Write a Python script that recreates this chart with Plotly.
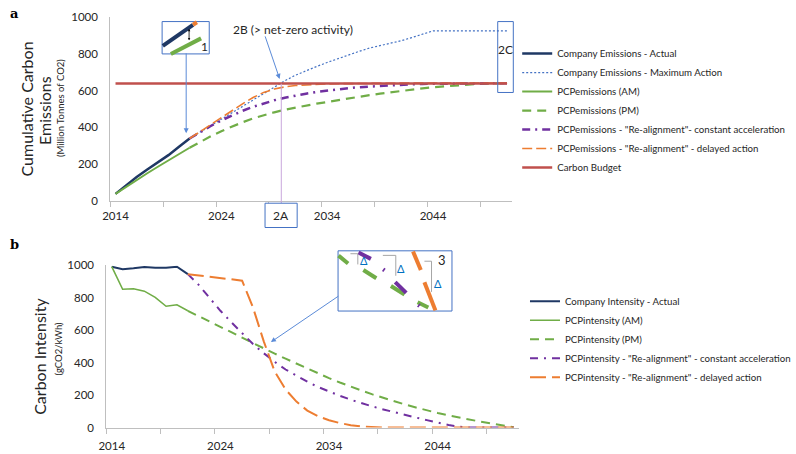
import plotly.graph_objects as go

W, H = 796, 454
FONT = "Lato"

# ---------------- data (panel a: cumulative emissions, Mt CO2) ----------------
years_hist = list(range(2014, 2022))
years_proj = list(range(2021, 2052))
years_all = list(range(2014, 2052))

emis_actual = [40, 86, 131, 172, 210, 250, 295, 340]
emis_max_action = [340, 375, 410, 445, 480, 515, 550, 586, 621, 653, 683, 708, 730, 752, 773, 793,
                   812, 830, 843, 856, 870, 887, 906, 923, 923, 923, 923, 923, 923, 923, 923]
pcp_emis_am = [40, 78, 115, 152, 187, 222, 256, 290]
pcp_emis_pm = [290, 322, 352, 380, 405, 428, 449, 467, 482, 496, 508, 519, 529, 538, 548, 557,
               566, 575, 583, 591, 598, 605, 612, 618, 623, 628, 632, 635, 637, 639, 640]
pcp_emis_const = [340, 375, 408, 438, 465, 490, 512, 531, 547, 561, 573, 583, 592, 600, 607, 613,
                  618, 622, 626, 629, 632, 634, 636, 637, 638, 639, 639, 640, 640, 640, 640]
pcp_emis_delay = [340, 378, 416, 452, 490, 528, 562, 590, 608, 620, 627, 631, 634, 636, 637, 638,
                  639, 639, 640, 640, 640, 640, 640, 640, 640, 640, 640, 640, 640, 640, 640]
carbon_budget = [638] * len(years_all)

# ---------------- data (panel b: carbon intensity, gCO2/kWh) ----------------
int_actual = [992, 976, 982, 990, 985, 985, 992, 946]
pcp_int_am = [992, 853, 856, 841, 803, 748, 757, 720]
pcp_int_pm = [720, 688, 656, 622, 588, 554, 520, 488, 456, 425, 394, 364, 334, 305, 278, 252,
              228, 205, 183, 162, 142, 124, 106, 90, 75, 61, 48, 36, 24, 12, 2]
pcp_int_const = [946, 880, 800, 720, 650, 580, 515, 458, 405, 358, 318, 283, 250, 222, 196, 172,
                 150, 130, 112, 94, 78, 62, 46, 30, 16, 5, 0, 0, 0, 0, 0]
pcp_int_delay = [946, 938, 930, 922, 914, 906, 740, 530, 345, 235, 160, 105, 70, 45, 28, 15,
                 7, 2, 0, 0, 0, 0, 0, 0, 0, 0, 0, 0, 0, 0, 0]

x_labels = [2014, 2024, 2034, 2044]
x_minor = [2013.5 + 5 * k for k in range(8)]
y_ticks = [0, 200, 400, 600, 800, 1000]

NAVY = "#1F3864"
BLUE = "#4472C4"
GREEN = "#70AD47"
PURPLE = "#7030A0"
ORANGE = "#ED7D31"
RED = "#C0504D"
AXC = "#BFBFBF"
TXT = "#262626"


def px(x, y):
    return x / W, 1 - y / H


fig = go.Figure()

# panel a
fig.add_trace(go.Scatter(x=years_hist, y=emis_actual, mode="lines", name="Company Emissions - Actual",
                         line=dict(color=NAVY, width=2.5), legend="legend"))
fig.add_trace(go.Scatter(x=years_proj, y=emis_max_action, mode="lines", name="Company Emissions - Maximum Action",
                         line=dict(color=BLUE, width=1.2, dash="2px,2px"), legend="legend"))
fig.add_trace(go.Scatter(x=years_hist, y=pcp_emis_am, mode="lines", name="PCPemissions (AM)",
                         line=dict(color=GREEN, width=2), legend="legend"))
fig.add_trace(go.Scatter(x=years_proj, y=pcp_emis_pm, mode="lines", name="PCPemissions (PM)",
                         line=dict(color=GREEN, width=2.2, dash="9px,6px"), legend="legend"))
fig.add_trace(go.Scatter(x=years_proj, y=pcp_emis_const, mode="lines",
                         name='PCPemissions - "Re-alignment"- constant acceleration',
                         line=dict(color=PURPLE, width=2.5, dash="8px,5px,2px,5px"), legend="legend"))
fig.add_trace(go.Scatter(x=years_proj, y=pcp_emis_delay, mode="lines",
                         name='PCPemissions - "Re-alignment" - delayed action',
                         line=dict(color=ORANGE, width=1.6, dash="10px,4px"), legend="legend"))
fig.add_trace(go.Scatter(x=years_all, y=carbon_budget, mode="lines", name="Carbon Budget",
                         line=dict(color=RED, width=2.5), legend="legend"))

# panel b
fig.add_trace(go.Scatter(x=years_hist, y=int_actual, mode="lines", name="Company Intensity - Actual",
                         line=dict(color=NAVY, width=2), xaxis="x2", yaxis="y2", legend="legend2"))
fig.add_trace(go.Scatter(x=years_hist, y=pcp_int_am, mode="lines", name="PCPintensity (AM)",
                         line=dict(color=GREEN, width=1.6), xaxis="x2", yaxis="y2", legend="legend2"))
fig.add_trace(go.Scatter(x=years_proj, y=pcp_int_pm, mode="lines", name="PCPintensity (PM)",
                         line=dict(color=GREEN, width=2, dash="9px,6px"), xaxis="x2", yaxis="y2",
                         legend="legend2"))
fig.add_trace(go.Scatter(x=years_proj, y=pcp_int_const, mode="lines",
                         name='PCPintensity - "Re-alignment" - constant acceleration',
                         line=dict(color=PURPLE, width=2, dash="8px,6px,2px,6px"), xaxis="x2", yaxis="y2",
                         legend="legend2"))
fig.add_trace(go.Scatter(x=years_proj, y=pcp_int_delay, mode="lines",
                         name='PCPintensity - "Re-alignment" - delayed action',
                         line=dict(color=ORANGE, width=2, dash="16px,6px"), xaxis="x2", yaxis="y2",
                         legend="legend2"))


def xaxis_cfg(standoff):
    return dict(range=[2013.5, 2051.5], tickvals=x_labels, ticktext=[str(v) for v in x_labels],
                ticks="", showgrid=False, zeroline=False, showline=True, linecolor=AXC, linewidth=1,
                tickfont=dict(family=FONT, size=11.5, color=TXT), ticklabelstandoff=standoff,
                minor=dict(tickvals=x_minor, ticks="outside", ticklen=5, tickcolor=AXC, showgrid=False),
                fixedrange=True)


ya_common = dict(range=[0, 1000], tickvals=y_ticks, ticks="", showgrid=False, zeroline=False,
                 showline=True, linecolor=AXC, linewidth=1,
                 tickfont=dict(family=FONT, size=11.5, color=TXT), ticklabelstandoff=9, fixedrange=True)

fig.update_layout(
    width=W, height=H, autosize=False,
    margin=dict(l=0, r=0, t=0, b=0),
    paper_bgcolor="white", plot_bgcolor="white",
    xaxis=dict(domain=[105 / W, 518 / W], anchor="y", **xaxis_cfg(4)),
    yaxis=dict(domain=[1 - 200 / H, 1 - 10 / H], anchor="x", **ya_common),
    xaxis2=dict(domain=[101 / W, 525 / W], anchor="y2", **xaxis_cfg(8)),
    yaxis2=dict(domain=[1 - 433 / H, 1 - 266 / H], anchor="x2", **ya_common),
    legend=dict(x=523 / W, y=1 - 33 / H, xanchor="left", yanchor="top", bgcolor="rgba(0,0,0,0)",
                font=dict(family=FONT, size=9.7, color=TXT), tracegroupgap=0, itemwidth=30),
    legend2=dict(x=531 / W, y=1 - 288 / H, xanchor="left", yanchor="top", bgcolor="rgba(0,0,0,0)",
                 font=dict(family=FONT, size=9.7, color=TXT), tracegroupgap=0, itemwidth=30),
    showlegend=True,
)

shapes = []
annotations = []


def pline(x0, y0, x1, y1, color, width=1, dash="solid"):
    a = px(x0, y0)
    b = px(x1, y1)
    shapes.append(dict(type="line", xref="paper", yref="paper", x0=a[0], y0=a[1], x1=b[0], y1=b[1],
                       line=dict(color=color, width=width, dash=dash)))


def prect(x0, y0, x1, y1, color=BLUE, width=1, fill="white"):
    a = px(x0, y0)
    b = px(x1, y1)
    shapes.append(dict(type="rect", xref="paper", yref="paper", x0=a[0], y0=b[1], x1=b[0], y1=a[1],
                       line=dict(color=color, width=width), fillcolor=fill))


def ptext(x, y, text, size=12, color=TXT, family=FONT, xanchor="center"):
    a = px(x, y)
    annotations.append(dict(x=a[0], y=a[1], xref="paper", yref="paper", text=text, showarrow=False,
                            xanchor=xanchor, yanchor="middle", font=dict(family=family, size=size, color=color)))


def parrow(hx, hy, tx, ty, color="#5B8BD8", width=1, side="end", size=1):
    a = px(hx, hy)
    annotations.append(dict(x=a[0], y=a[1], xref="paper", yref="paper", ax=tx - hx, ay=ty - hy,
                            axref="pixel", ayref="pixel", text="", showarrow=True, arrowhead=2,
                            arrowsize=size, arrowwidth=width, arrowcolor=color, arrowside=side,
                            startarrowhead=2, startarrowsize=size))


# panel labels
ptext(6.5, 6.5, "<b>a</b>", size=13, color="#000000", family="DejaVu Serif")
ptext(6.5, 245, "<b>b</b>", size=13, color="#000000", family="DejaVu Serif")

# axis titles (rotated)
for (x, y, t, s) in [(20, 105, "Cumulative Carbon", 16), (38, 106, "Emissions", 16),
                     (54, 104.5, "(Million Tonnes of CO2)", 9.5),
                     (33, 360, "Carbon Intensity", 16), (52, 352, "(gCO2/kWh)", 9.5)]:
    a = px(x, y)
    annotations.append(dict(x=a[0], y=a[1], xref="paper", yref="paper", text=t, showarrow=False,
                            textangle=-90, xanchor="center", yanchor="middle",
                            font=dict(family=FONT, size=s, color=TXT)))

# 2A vertical marker and box
pline(280.7, 79, 280.7, 202, "#C9A6DC", 1)
prect(264, 202, 297, 227)
ptext(280.5, 214.5, "2A", size=12)

# 2C box
prect(503, 15, 519, 88, fill="rgba(0,0,0,0)")
ptext(511, 44, "2C", size=12)

# 2B label and arrow
ptext(293, 23, "2B (> net-zero activity)", size=12)
parrow(279, 74, 264, 30)

# inset 1
prect(158.3, 15, 206.7, 48.3)
pline(159, 40, 190, 18.3, NAVY, 4)
pline(190, 18.3, 194, 15.7, ORANGE, 4)
pline(167.3, 48.3, 198.3, 32.3, GREEN, 4)
parrow(186, 22.5, 186, 35.5, color="#000000", width=0.8, side="end+start", size=0.6)
ptext(201.5, 41, "1", size=12)
parrow(183, 130, 183, 48.5)

# inset 3 (panel b)
prect(339, 251, 456, 313)
for (x0, y0, x1, y1) in [(339.5, 256, 349.3, 264), (365, 270.7, 378.3, 279.3),
                         (393.3, 287.3, 407.3, 296), (420.7, 304, 431.7, 309.3)]:
    pline(x0, y0, x1, y1, GREEN, 4)
for (x0, y0, x1, y1) in [(360, 252.7, 372.7, 259.3), (397.7, 283.3, 409, 294.3)]:
    pline(x0, y0, x1, y1, PURPLE, 4)
for (x0, y0, x1, y1) in [(385.3, 270.2, 386.7, 271.2), (421.3, 306.8, 422.7, 307.8)]:
    pline(x0, y0, x1, y1, PURPLE, 4)
for (x0, y0, x1, y1) in [(416, 251.7, 424, 270.7), (427.7, 283.3, 439, 312.3)]:
    pline(x0, y0, x1, y1, ORANGE, 4)
for pts in [[(351.7, 254), (359.3, 254), (359.3, 265)],
            [(385, 255.7), (398.3, 255.7), (398.3, 276.7)],
            [(427.7, 261.7), (435, 261.7), (435, 293.3)]]:
    for i in range(len(pts) - 1):
        pline(pts[i][0], pts[i][1], pts[i + 1][0], pts[i + 1][1], "#A6A6A6", 1)
for (x, y) in [(365.7, 261), (403.7, 269), (441.3, 284.3)]:
    ptext(x, y, "Δ", size=11, color="#0070C0")
ptext(445.7, 260.7, "3", size=13)
parrow(270, 345, 339, 298)

fig.update_layout(shapes=shapes, annotations=annotations)

fig.write_html("out.html", config={"displayModeBar": False},
               post_script="document.body.style.margin='0px';document.body.style.overflow='hidden';")
